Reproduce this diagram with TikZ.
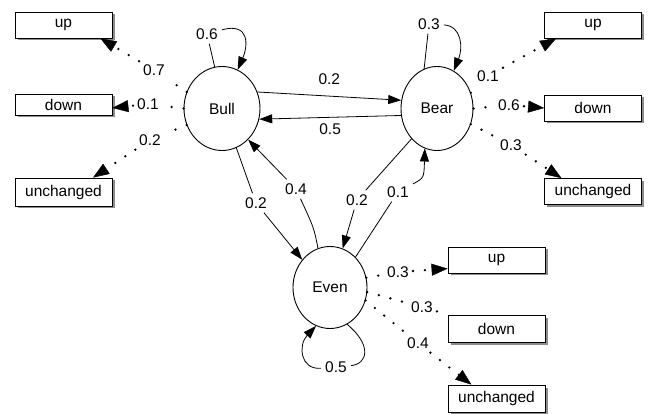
\documentclass[tikz,border=0pt]{standalone}
\usepackage{fontspec}
\setmainfont{Liberation Sans}
\usetikzlibrary{shapes.geometric,arrows.meta,shadows}
\begin{document}
\begin{tikzpicture}[x=1pt,y=-1pt,
  every node/.style={font=\fontsize{15.5}{18}\selectfont},
  state/.style={ellipse,draw,line width=0.9pt,inner sep=0pt,fill=white},
  outbox/.style={rectangle,draw,line width=0.8pt,fill=white,inner sep=0pt,
    minimum width=97pt,minimum height=26pt,
    drop shadow={shadow xshift=2.5pt,shadow yshift=-2.5pt,fill=black!45,opacity=1}},
  lab/.style={inner sep=4pt},
  trans/.style={line width=0.8pt,-{Triangle[length=13pt,width=9pt]}},
  emitline/.style={line width=2.6pt,line cap=round,dash pattern=on 0pt off 12pt},
  emit/.style={emitline,-{Triangle[length=16pt,width=12pt,line width=0.4pt]}},
]
\useasboundingbox (0,0) rectangle (651,414);

% states
\node[state,minimum width=76pt,minimum height=84pt] (bull) at (222,108.5) {Bull};
\node[state,minimum width=72pt,minimum height=84pt] (bear) at (437,108.5) {Bear};
\node[state,minimum width=74pt,minimum height=82pt] (even) at (330,287.5) {Even};

% output boxes
\node[outbox] (lup) at (63.5,25) {up};
\node[outbox,minimum height=21pt] (ldown) at (63.5,104.5) {down};
\node[outbox,minimum height=28pt] (lunch) at (63.5,192) {unchanged};
\node[outbox] (rup) at (593,25) {up};
\node[outbox] (rdown) at (593,108) {down};
\node[outbox] (runch) at (593,191.5) {unchanged};
\node[outbox] (eup) at (496.5,260) {up};
\node[outbox,minimum height=27pt] (edown) at (496.5,328.5) {down};
\node[outbox,minimum height=27pt] (eunch) at (496.5,398.5) {unchanged};

% labels on paths
\node[lab] (l06) at (207,34) {0.6};
\node[lab] (l03) at (429,24) {0.3};
\node[lab] (l05) at (336,367) {0.5};
\node[lab] (l02a) at (256,203) {0.2};
\node[lab] (l04) at (296,189) {0.4};
\node[lab] (l02b) at (357,200) {0.2};
\node[lab] (l01) at (398,192) {0.1};
\node[lab] (l07) at (154,70) {0.7};
\node[lab] (l01a) at (148,104) {0.1};
\node[lab] (l02c) at (150,140) {0.2};
\node[lab] (l01b) at (488,76) {0.1};
\node[lab] (l06b) at (509,105) {0.6};
\node[lab] (l03b) at (511,145) {0.3};
\node[lab] (l03c) at (398,272) {0.3};
\node[lab] (l03d) at (422,307) {0.3};
\node[lab] (l04b) at (418,343) {0.4};

% transitions
\draw[trans] (bull.100) -- (l06) .. controls (250,22) and (248,46) .. (bull.68);
\draw[trans] (bear.108) -- (l03) .. controls (462,26) and (463,48) .. (bear.66);
\draw[trans] (even.295) .. controls (372,345) and (368,364) .. (l05)
   .. controls (300,370) and (298,345) .. (even.250);
\draw[trans] (bull.25) -- node[lab,above=7pt] (l02t) {0.2} (bear.167);
\draw[trans] (bear.191) -- node[lab,below=2pt] (l05t) {0.5} (bull.344);
\draw[trans] (bull.290) -- (l02a) -- (even.135);
\draw[trans] (even.107) .. controls (314,228) .. (l04) -- (bull.310);
\draw[trans] (bear.230) -- (l02b) -- (even.72);
\draw[trans] (even.50) -- (l01) .. controls (424,178) .. (bear.253);

% emissions
\draw[emit] (bull.155) -- (l07) -- (lup.-20);
\draw[emit] (bull.180) -- (l01a) -- (ldown.-4);
\draw[emit] (bull.205) -- (l02c) -- (lunch.26);
\draw[emit] (bear.25) -- (l01b) -- (rup.200);
\draw[emit] (bear.0) -- (l06b) -- (rdown.west);
\draw[emit] (bear.335) -- (l03b) -- (runch.157);
\draw[emit] (even.15) -- (l03c) -- (eup.190);
\draw[emitline] (even.353) -- (l03d) -- (edown.north west);
\draw[emit] (even.340) -- (l04b) -- (eunch.151);
\end{tikzpicture}
\end{document}
